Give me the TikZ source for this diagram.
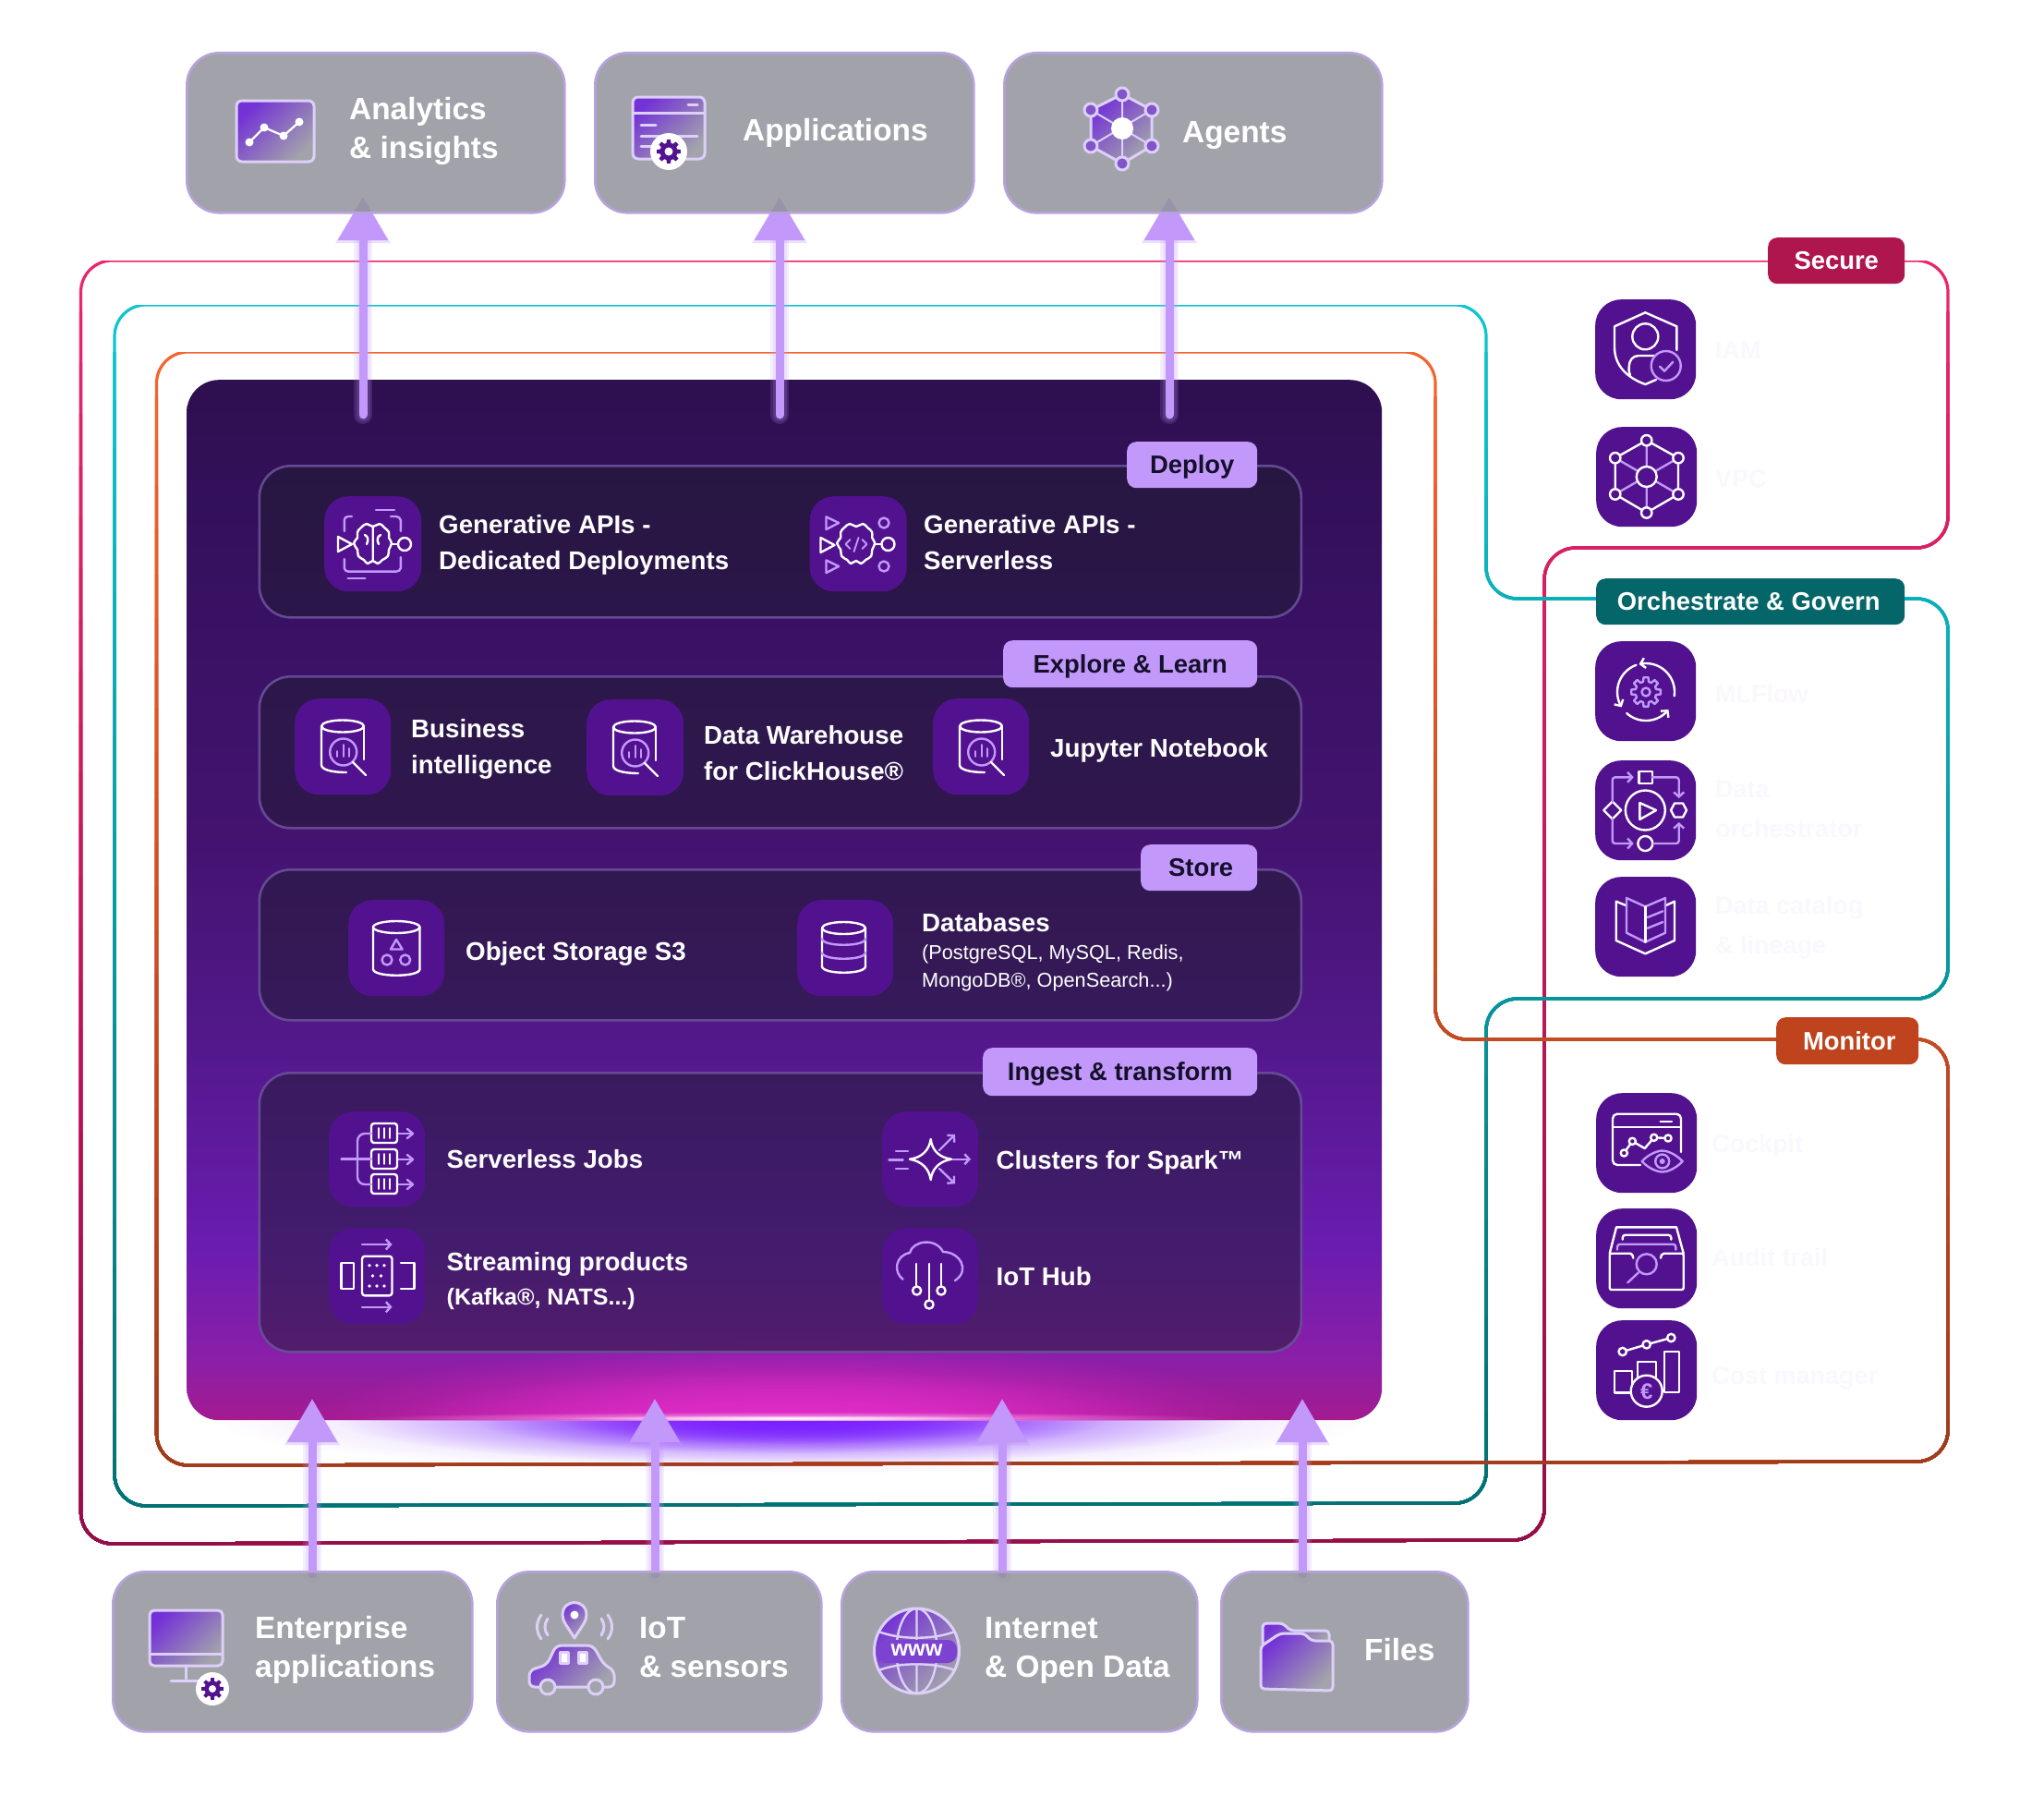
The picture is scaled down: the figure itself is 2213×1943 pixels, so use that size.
\documentclass[tikz,border=0pt]{standalone}
\usepackage{fontspec}
\setmainfont{Liberation Sans}
\usetikzlibrary{arrows.meta,fadings,calc}
\definecolor{lav}{HTML}{C298FB}
\definecolor{tilec}{HTML}{52128F}
\definecolor{boxc}{HTML}{92939C}
\definecolor{boxb}{HTML}{B7A2DC}
\definecolor{gp}{HTML}{7432D6}
\definecolor{gg}{HTML}{A2A3AB}
\definecolor{gl}{HTML}{DCCFF8}
\definecolor{fnt}{HTML}{FAF8FE}
\definecolor{ink}{HTML}{14102A}
\definecolor{grpf}{HTML}{1E1C2E}
\definecolor{grpd}{HTML}{6A4F9A}
\definecolor{gmag}{HTML}{E02CC8}
\definecolor{gvio}{HTML}{7A22FF}
\definecolor{c1}{HTML}{2E0F4F}\definecolor{c2}{HTML}{381163}\definecolor{c3}{HTML}{43136F}
\definecolor{c4}{HTML}{52188A}\definecolor{c5}{HTML}{6A1CB0}\definecolor{c6}{HTML}{8A1FA8}\definecolor{c7}{HTML}{A41B90}
\pgfdeclareverticalshading{panelshade}{100bp}{color(0bp)=(c7); color(25bp)=(c7); color(28bp)=(c6); color(33.3bp)=(c5); color(43.5bp)=(c4); color(53.3bp)=(c3); color(64.4bp)=(c2); color(75bp)=(c1); color(100bp)=(c1)}
\tikzfading[name=glowfade, inner color=transparent!0, outer color=transparent!100]
\newcommand{\gradring}[5]{%
  \foreach \i in {0,...,24}{%
    \pgfmathsetmacro\yy{#4+(\i/25)*(#5-#4)}%
    \pgfmathsetmacro\pp{100-\i*4}%
    \begin{scope}\clip (0,\yy) rectangle (2213,1943);
    \draw[line width=3.2pt, color=#2!\pp!#3, rounded corners=34pt] #1;
    \end{scope}}}
\newcommand{\gearshape}[3]{\path[#3] (-15:#2) \foreach \a in {0,45,...,315}{ -- ({\a-15}:#2) -- ({\a-9}:#1) -- ({\a+9}:#1) -- ({\a+15}:#2) } -- cycle;}
\newcommand{\boxnode}[5]{\node[outbox, minimum width=#4-#2, minimum height=#5-#3, anchor=north west] (#1) at (#2,#3) {};}
\newcommand{\tilenode}[5]{\node[tilebox, minimum width=#4, minimum height=#5, anchor=north west] (#1) at (#2,#3) {};}
\newcommand{\grpnode}[3]{\node[grpbox, minimum width=1128pt, minimum height=#3-#2, anchor=north west] (#1) at (279.5,#2) {};}
\newcommand{\biicon}{%
  \draw[iw] (52,30) ellipse [x radius=23, y radius=6.5];
  \draw[iw] (29,30) -- (29,72) .. controls (29,77) and (40,80) .. (56,80);
  \draw[iw] (75,30) -- (75,66);
  \draw[il] (52.7,58) circle [radius=14.5];
  \draw[il,line width=1.8pt] (46,63)--(46,57) (52.7,63)--(52.7,50) (59,63)--(59,54);
  \draw[iw] (63,69) -- (77,83);}
\newcommand{\brainshape}[1]{\draw[#1] plot[smooth cycle,tension=.7] coordinates {(52.7,33)(46,30)(40,34)(36,39)(36,45)(32,51)(36,58)(37,65)(43,69)(47,73)(52.7,70)(58,73)(63,69)(69,65)(70,58)(73,51)(70,45)(70,39)(65,34)(60,30)};}
\newcommand{\stl}{\strut}
\tikzset{
  x=1pt,y=-1pt,
  outbox/.style={draw=boxb, line width=2.6pt, fill=boxc, fill opacity=.85, draw opacity=1, rounded corners=35pt, inner sep=0pt},
  tilebox/.style={fill=tilec, rounded corners=26pt, inner sep=0pt},
  grpbox/.style={draw=grpd, line width=2.6pt, fill=grpf, fill opacity=.5, draw opacity=.9, rounded corners=34pt, inner sep=0pt},
  tagbox/.style={fill=lav, rounded corners=10pt, inner sep=0pt, text=ink, font=\fontsize{27.4}{34}\selectfont\bfseries},
  ringtag/.style={rounded corners=10pt, inner sep=0pt, text=white, font=\fontsize{27.4}{34}\selectfont\bfseries},
  intxt/.style={anchor=west, inner sep=0pt, align=left, text=white, yshift=-1.5pt, font=\fontsize{27.7}{39}\selectfont\bfseries},
  outtxt/.style={anchor=west, inner sep=0pt, align=left, text=white, yshift=-2pt, font=\fontsize{33.4}{42}\selectfont\bfseries},
  faint/.style={anchor=west, inner sep=0pt, align=left, text=fnt, yshift=-1.5pt, font=\fontsize{27}{43}\selectfont\bfseries},
  iw/.style={draw=white, line width=2.4pt, line join=round, line cap=round},
  il/.style={draw=lav, line width=2.4pt, line join=round, line cap=round},
  bar/.style={-{Straight Barb[length=5pt,width=11pt]}},
  gi/.style={draw=gl, line width=3pt, line join=round, top color=gp, bottom color=gg, shading angle=45},
  gs/.style={draw=gl, line width=3pt, line join=round, line cap=round},
  flow/.style={draw=lav, fill=lav, line width=9pt, -{Triangle[width=52pt,length=47pt]}},
  flowglow/.style={draw=lav, fill=lav, line width=#1, opacity=.16, line cap=round, -{Triangle[width=56pt,length=50pt]}},
}
\begin{document}
\begin{tikzpicture}
\useasboundingbox (0,0) rectangle (2213,1943);
\fill[white] (0,0) rectangle (2213,1943);

% glow under the panel
\begin{scope}
\clip (0,1537) rectangle (2213,1700);
\fill[color=lav!75!white, path fading=glowfade] (856,1537) ellipse [x radius=620, y radius=58];
\fill[color=gvio!70!lav, path fading=glowfade] (856,1537) ellipse [x radius=490, y radius=48];
\fill[color=gvio, path fading=glowfade] (856,1537) ellipse [x radius=340, y radius=36];
\fill[color=gvio, path fading=glowfade] (856,1537) ellipse [x radius=250, y radius=26];
\end{scope}

% frames
\definecolor{r1}{HTML}{EA256C}\definecolor{r2}{HTML}{900E45}
\definecolor{t1}{HTML}{0EC4CF}\definecolor{t2}{HTML}{056E70}
\definecolor{o1}{HTML}{F4642F}\definecolor{o2}{HTML}{9E3A1C}
\gradring{(87.5,282) -- (2109,282) -- (2109,593) -- (1672,593) -- (1672,1667) -- (87.5,1671) -- cycle}{r1}{r2}{282}{1671}
\gradring{(124,330) -- (1609,330) -- (1609,648) -- (2109,648) -- (2109,1081) -- (1609,1081) -- (1609,1627) -- (124,1630) -- cycle}{t1}{t2}{330}{1630}
\gradring{(169.5,381) -- (1554,381) -- (1554,1125) -- (2109,1125) -- (2109,1582) -- (169.5,1586) -- cycle}{o1}{o2}{381}{1586}

% panel
\node[shade, shading=panelshade, rounded corners=35pt, inner sep=0pt, minimum width=1294pt, minimum height=1126pt, anchor=north west] (panel) at (202,411) {};
\begin{scope}
\clip (202,1380) rectangle (1496,1537);
\fill[color=gmag, path fading=glowfade] (856,1537) ellipse [x radius=520, y radius=85];
\fill[color=gmag, path fading=glowfade] (856,1537) ellipse [x radius=430, y radius=55];
\fill[color=white!60!gmag, path fading=glowfade] (856,1535) ellipse [x radius=470, y radius=7];
\fill[color=white, path fading=glowfade] (856,1535) ellipse [x radius=260, y radius=3];
\end{scope}

% group boxes
\grpnode{gdeploy}{503}{667}
\grpnode{gexplore}{731}{895}
\grpnode{gstore}{940}{1103}
\grpnode{gingest}{1160}{1462}
\node[tagbox, minimum width=141pt, minimum height=50pt, anchor=north west] (tdeploy) at (1220,478) {\stl\raisebox{-2.5pt}{Deploy}};
\node[tagbox, minimum width=275pt, minimum height=51pt, anchor=north west] (texplore) at (1086,693) {\stl\raisebox{-2.5pt}{Explore \& Learn}};
\node[tagbox, minimum width=126pt, minimum height=50pt, anchor=north west] (tstore) at (1235,914) {\hspace{4pt}\stl\raisebox{-2.5pt}{Store}};
\node[tagbox, minimum width=297pt, minimum height=52pt, anchor=north west] (tingest) at (1064,1134) {\stl\raisebox{-2.5pt}{Ingest \& transform}};

% flow arrows out
\coordinate (aoA) at (393,449); \coordinate (aoAt) at (393,213);
\coordinate (aoB) at (844,449); \coordinate (aoBt) at (844,213);
\coordinate (aoC) at (1266,449); \coordinate (aoCt) at (1266,213);
\coordinate (aiA) at (338,1704); \coordinate (aiAt) at (338,1514);
\coordinate (aiB) at (709,1704); \coordinate (aiBt) at (709,1514);
\coordinate (aiC) at (1085,1704); \coordinate (aiCt) at (1085,1514);
\coordinate (aiD) at (1410,1704); \coordinate (aiDt) at (1410,1514);
\foreach \s/\t in {aoA/aoAt,aoB/aoBt,aoC/aoCt,aiA/aiAt,aiB/aiBt,aiC/aiCt,aiD/aiDt}{
  \draw[flowglow=20pt] (\s) -- (\t);
  \draw[flowglow=15pt] (\s) -- (\t);
  \draw[flow, line cap=round] (\s) -- (\t);
}

% outer boxes
\boxnode{bana}{201}{56}{610}{229}
\boxnode{bapp}{643}{56}{1053}{229}
\boxnode{bage}{1086}{56}{1495}{229}
\boxnode{bent}{121}{1700}{510}{1873}
\boxnode{biot}{537}{1700}{888}{1873}
\boxnode{bnet}{910}{1700}{1295}{1873}
\boxnode{bfil}{1321}{1700}{1588}{1873}

\node[outtxt] (xana) at (378,140) {\stl Analytics\\\stl\& insights};
\node[outtxt] (xapp) at (804,142) {\stl Applications};
\node[outtxt] (xage) at (1280,144) {\stl Agents};
\node[outtxt] (xent) at (276,1784) {\stl Enterprise\\\stl applications};
\node[outtxt] (xiot) at (692,1784) {\stl IoT\\\stl\& sensors};
\node[outtxt] (xnet) at (1066,1784) {\stl Internet\\\stl\& Open Data};
\node[outtxt] (xfil) at (1477,1787) {\stl Files};

% analytics icon
\draw[gi, rounded corners=6pt] (256,109) rectangle (340,175);
\draw[draw=white,line width=2.2pt] (270,154)--(286,138)--(307,147)--(324,132);
\foreach \p in {(270,154),(286,138),(307,147),(324,132)} \fill[white] \p circle [radius=4.5];
% applications icon
\draw[gi, rounded corners=6pt] (685,105) rectangle (763,172);
\draw[gs] (685,122)--(763,122);
\draw[gs] (745,113)--(755,113) (694,135)--(710,135) (694,147)--(755,147) (694,158)--(708,158);
\fill[white] (724,164) circle [radius=20];
\begin{scope}[shift={(724,164)}]
\gearshape{13}{9.5}{fill=tilec}
\fill[white] (0,0) circle [radius=4.5];
\end{scope}
% agents icon
\fill[top color=gp, bottom color=gg, shading angle=45] (1215,102)--(1247,119)--(1247,158)--(1215,177)--(1181,158)--(1181,119)--cycle;
\draw[gs] (1215,102)--(1247,119)--(1247,158)--(1215,177)--(1181,158)--(1181,119)--cycle;
\draw[gs,line width=2pt] (1215,102)--(1215,177) (1181,119)--(1247,158) (1247,119)--(1181,158);
\foreach \p in {(1215,102),(1247,119),(1247,158),(1215,177),(1181,158),(1181,119)} \draw[gs,fill=gp!70!gg] \p circle [radius=7];
\fill[white] (1215,139) circle [radius=12];

% monitor icon
\draw[gi, rounded corners=5pt] (162,1743) rectangle (241,1803);
\draw[gs] (162,1790)--(241,1790);
\draw[gs] (201,1803)--(201,1817) (185,1819)--(220,1819);
\fill[white] (230,1828) circle [radius=18];
\begin{scope}[shift={(230,1828)}]
\gearshape{12}{8.5}{fill=tilec}
\fill[white] (0,0) circle [radius=4];
\end{scope}
% pin and car
\draw[gs, top color=gp, bottom color=gg, shading angle=45] (622,1773) .. controls (614,1760) and (609,1755) .. (609,1748) .. controls (609,1730) and (635,1730) .. (635,1748) .. controls (635,1755) and (630,1760) .. (622,1773) -- cycle;
\fill[white] (622,1748) circle [radius=4.5];
\draw[gs] (593,1752) .. controls (589,1758) and (589,1764) .. (593,1770) (586,1748) .. controls (580,1756) and (580,1766) .. (586,1774);
\draw[gs] (651,1752) .. controls (655,1758) and (655,1764) .. (651,1770) (658,1748) .. controls (664,1756) and (664,1766) .. (658,1774);
\draw[gi, rounded corners=6pt] (573,1826) -- (573,1808) -- (592,1802) -- (602,1781) -- (642,1781) -- (654,1802) -- (665,1808) -- (665,1826) -- cycle;
\draw[gs,fill=white] (606,1788) rectangle (615,1800);
\draw[gs,fill=white] (626,1788) rectangle (635,1800);
\draw[gs,fill=gg] (593,1826) circle [radius=8];
\draw[gs,fill=gg] (645,1826) circle [radius=8];
% globe
\draw[gi] (992.5,1787) circle [radius=46];
\draw[gs,line width=2.4pt] (992.5,1741) -- (992.5,1833) (992.5,1787) ellipse [x radius=22, y radius=46];
\draw[gs,line width=2.4pt] (951,1766) .. controls (975,1775) and (1010,1775) .. (1034,1766) (951,1808) .. controls (975,1799) and (1010,1799) .. (1034,1808);
\fill[gp!85!gg, rounded corners=10pt] (949,1775) rectangle (1036,1800);
\node[inner sep=0pt, text=white, font=\fontsize{24}{24}\selectfont\bfseries] (xwww) at (992.5,1786) {www};
% folder
\draw[gi, rounded corners=4pt] (1367,1782) -- (1367,1757) -- (1389,1757) -- (1397,1765) -- (1439,1765) -- (1439,1782) -- cycle;
\draw[gi, rounded corners=4pt] (1365,1828) -- (1365,1782) -- (1386,1768) -- (1412,1768) -- (1420,1776) -- (1443,1776) -- (1443,1830) -- cycle;

% inner tiles and icons
\tilenode{igen}{351}{537}{105}{103}
\begin{scope}[shift={(igen.north west)}]
\draw[il] (30,22) -- (26,22) .. controls (23,22) and (21.8,24) .. (21.8,26) -- (21.8,38) (21.8,68) -- (21.8,78) .. controls (21.8,80) and (24,81.6) .. (26,81.6) -- (78,81.6) .. controls (80,81.6) and (82.8,80) .. (82.8,78) -- (82.8,66) (82.8,38) -- (82.8,26) .. controls (82.8,24) and (80,22) .. (78,22) -- (72,22);
\draw[il] (56,14.7)--(76,14.7) (25.6,89)--(44.4,89);
\brainshape{iw,fill=tilec}
\draw[iw] (52.7,33)--(52.7,70) (44,42) .. controls (48,44) and (48,48) .. (46,52) (61,42) .. controls (57,44) and (57,48) .. (59,52);
\draw[iw] (15,44)--(15,60)--(30,52)--cycle;
\draw[iw] (73,52)--(80,52);
\draw[iw] (87,52) circle [radius=7];
\end{scope}
\tilenode{igens}{876.5}{537}{105}{103}
\begin{scope}[shift={(igens.north west)}]
\draw[il] (18,22.4)--(18,36)--(31.6,29)--cycle (18,69.4)--(18,83)--(31.6,76)--cycle;
\draw[il] (80.5,29) circle [radius=5.5] (80.5,76) circle [radius=5.5];
\begin{scope}[shift={(-2.3,0)}]\brainshape{iw,fill=tilec}\end{scope}
\draw[il,line width=1.9pt] (44,47)--(39,52)--(44,57) (53,45)--(48,60) (57,47)--(62,52)--(57,57);
\draw[iw] (12,45)--(12,61)--(27,53)--cycle;
\draw[iw] (71,52)--(78,52);
\draw[iw] (85,52) circle [radius=7];
\end{scope}
\tilenode{ibi}{319}{756}{104}{104}
\begin{scope}[shift={(ibi.north west)}]\biicon\end{scope}
\tilenode{idw}{635}{757}{105}{104}
\begin{scope}[shift={(idw.north west)}]\biicon\end{scope}
\tilenode{ijn}{1010}{756}{104}{104}
\begin{scope}[shift={(ijn.north west)}]\biicon\end{scope}
\tilenode{is3}{377}{974}{104}{104}
\begin{scope}[shift={(is3.north west)}]
\draw[iw] (52.2,29.5) ellipse [x radius=25.2, y radius=6.5];
\draw[iw] (27,29.5) -- (27,75) .. controls (27,84) and (77.5,84) .. (77.5,75) -- (77.5,29.5);
\draw[il] (52,43)--(46,53.5)--(58.7,53.5)--cycle;
\draw[il] (42,65) circle [radius=5.5] (61.7,65) circle [radius=5.5];
\end{scope}
\tilenode{idb}{863}{974}{104}{104}
\begin{scope}[shift={(idb.north west)}]
\draw[iw] (50.5,30.5) ellipse [x radius=23.5, y radius=6.5];
\draw[iw] (27,30.5) -- (27,72) .. controls (27,81) and (74,81) .. (74,72) -- (74,30.5);
\draw[il] (27,42) .. controls (27,51) and (74,51) .. (74,42) (27,57) .. controls (27,66) and (74,66) .. (74,57);
\end{scope}
\tilenode{isj}{356}{1203}{104}{103}
\begin{scope}[shift={(isj.north west)}]
\foreach \y in {13,41,68}{
  \draw[il] (74,\y+11)--(90,\y+11);
  \draw[il] (85,\y+6)--(91,\y+11)--(85,\y+16);
  \draw[iw,rounded corners=3pt] (46,\y) rectangle (74,\y+21);
  \draw[iw,line width=1.7pt] (54,\y+5)--(54,\y+16) (60,\y+5)--(60,\y+16) (66,\y+5)--(66,\y+16);
}
\draw[il] (13.5,51.5)--(46,51.5);
\draw[il,rounded corners=8pt] (46,24)--(31,24)--(31,79)--(46,79);
\end{scope}
\tilenode{isp}{955}{1203}{104}{103}
\begin{scope}[shift={(isp.north west)}]
\draw[il] (15,42.7)--(28,42.7) (7.5,52.3)--(22.6,52.3) (15,61.7)--(28,61.7);
\draw[il,bar] (76.7,51.7)--(96,51.7);
\draw[il,bar] (62,42)--(79,25);
\draw[il,bar] (62,62)--(79,78.3);
\draw[iw] (52.7,30) .. controls (54,42) and (62,50) .. (75,51.7) .. controls (62,54) and (54,62) .. (52.7,74) .. controls (51,62) and (43,54) .. (30,51.7) .. controls (43,50) and (51,42) .. (52.7,30) -- cycle;
\end{scope}
\tilenode{ist}{356}{1329}{104}{104}
\begin{scope}[shift={(ist.north west)}]
\draw[il,bar] (36,18)--(68.5,18);
\draw[il,bar] (36,85.7)--(68.5,85.7);
\draw[iw,rounded corners=3pt] (36,30.7) rectangle (68.5,73.3);
\draw[iw] (13.5,38) rectangle (27,65.7);
\draw[iw] (78,38)--(92.5,38)--(92.5,65.7)--(78,65.7);
\foreach \x in {44,52,60}{\fill[white] (\x,40.7) circle [radius=1.8]; \fill[white] (\x,63) circle [radius=1.8];}
\foreach \x in {47.5,56.5}{\fill[white] (\x,52) circle [radius=1.8];}
\end{scope}
\tilenode{iih}{955}{1329}{104}{104}
\begin{scope}[shift={(iih.north west)}]
\draw[il] (22.6,55.7) .. controls (12,48) and (14,30) .. (30,27) .. controls (33,14) and (58,10) .. (66,26) .. controls (84,26) and (96,46) .. (79,57);
\draw[iw] (37,39)--(37,63) (51,39)--(51,78) (64,39)--(64,63);
\draw[iw] (37.6,68) circle [radius=4.6] (51,83) circle [radius=4.6] (64,68) circle [radius=4.6];
\end{scope}

% inner texts
\node[intxt] (xgd) at (475,587.5) {\stl Generative APIs -\\\stl Dedicated Deployments};
\node[intxt] (xgs) at (1000,587.5) {\stl Generative APIs -\\\stl Serverless};
\node[intxt] (xbi) at (445,808.5) {\stl Business\\\stl intelligence};
\node[intxt] (xdw) at (762,815.5) {\stl Data Warehouse\\\stl for ClickHouse®};
\node[intxt] (xjn) at (1137,810) {\stl Jupyter Notebook};
\node[intxt] (xs3) at (504,1030) {\stl Object Storage S3};
\node[intxt] (xdb) at (998,999) {\stl Databases};
\node[anchor=west, inner sep=0pt, align=left, text=white, yshift=-1pt, font=\fontsize{21.7}{30}\selectfont] (xdbs) at (998,1046) {\stl (PostgreSQL, MySQL, Redis,\\\stl MongoDB®, OpenSearch...)};
\node[intxt] (xsj) at (483.5,1255) {\stl Serverless Jobs};
\node[intxt] (xcs) at (1078.5,1256) {\stl Clusters for Spark™};
\node[intxt] (xsp) at (483.5,1366) {\stl Streaming products};
\node[anchor=west, inner sep=0pt, text=white, yshift=-1.5pt, font=\fontsize{25}{30}\selectfont\bfseries] (xsps) at (483.5,1405) {\stl (Kafka®, NATS...)};
\node[intxt] (xih) at (1078.5,1382) {\stl IoT Hub};

% frame tags
\definecolor{tagr}{HTML}{B0164E}\definecolor{tagt}{HTML}{05666A}\definecolor{tago}{HTML}{BF441E}
\node[ringtag, fill=tagr, minimum width=148pt, minimum height=50pt, anchor=north west] (rsec) at (1914,257) {\stl\raisebox{-2.5pt}{Secure}};
\node[ringtag, fill=tagt, minimum width=334pt, minimum height=50pt, anchor=north west] (rorc) at (1728,626) {\hspace{-4pt}\stl\raisebox{-2.5pt}{Orchestrate \& Govern}};
\node[ringtag, fill=tago, minimum width=154pt, minimum height=51pt, anchor=north west] (rmon) at (1923,1101) {\hspace{4pt}\stl\raisebox{-2.5pt}{Monitor}};

% side tiles
\tikzset{tilebox/.append style={rounded corners=28pt}}
\tilenode{siam}{1727}{324}{109}{108}
\begin{scope}[shift={(siam.north west)}]
\draw[iw] (66,87) -- (54.3,92) .. controls (35,85) and (21,72) .. (21,52) -- (21,29.3) -- (54.3,14.3) -- (88.3,29.3) -- (88.3,55);
\draw[iw] (54.3,40.3) circle [radius=14];
\draw[iw] (38,82) .. controls (36,78) and (36.7,75) .. (36.7,72.7) .. controls (36.7,66) and (41,61) .. (47,61) -- (68,61);
\draw[il,fill=tilec] (76.7,72) circle [radius=16];
\draw[il] (70,72.7)--(75,77.7)--(84.3,67.7);
\end{scope}
\tilenode{svpc}{1728}{462}{109}{108}
\begin{scope}[shift={(svpc.north west)}]
\draw[il] (54.7,14.7)--(54.7,93) (20.7,33.7)--(89,73) (89,33.7)--(20.7,73);
\draw[iw] (54.7,14.7)--(89,33.7)--(89,73)--(54.7,93)--(20.7,73)--(20.7,33.7)--cycle;
\draw[iw,fill=tilec] (54.7,54) circle [radius=11];
\foreach \p in {(54.7,14.7),(89,33.7),(89,73),(54.7,93),(20.7,73),(20.7,33.7)} \draw[iw,fill=tilec] \p circle [radius=5.7];
\end{scope}
\tilenode{smlf}{1727}{694}{109}{108}
\begin{scope}[shift={(smlf.north west)}]
\draw[iw,bar] plot[domain=250:148,samples=24] ({55+31*cos(\x)},{55+31*sin(\x)});
\draw[iw,bar] plot[domain=132:38,samples=24] ({55+31*cos(\x)},{55+31*sin(\x)});
\draw[iw,bar] plot[domain=8:-104,samples=24] ({55+31*cos(\x)},{55+31*sin(\x)});
\begin{scope}[shift={(55,55)}]
\gearshape{16}{11.5}{il}
\draw[il] (0,0) circle [radius=4.5];
\end{scope}
\end{scope}
\tilenode{sorc}{1727}{823}{109}{108}
\begin{scope}[shift={(sorc.north west)}]
\draw[iw] (54.3,54) circle [radius=21.5];
\draw[iw] (48.3,46)--(48.3,64)--(66,54)--cycle;
\draw[iw] (47.3,11.7) rectangle (61.7,25);
\draw[iw] (54.3,90) circle [radius=8];
\draw[iw] (18.7,44.5)--(28.2,54)--(18.7,63.5)--(9.2,54)--cycle;
\draw[iw] (82,54)--(86,46.5)--(95,46.5)--(99,54)--(95,61.5)--(86,61.5)--cycle;
\draw[il,bar,rounded corners=3pt] (18.7,45)--(18.7,18.3)--(41.7,18.3);
\draw[il,bar,rounded corners=3pt] (61.7,18.3)--(90.7,18.3)--(90.7,41);
\draw[il,bar,rounded corners=3pt] (18.7,63)--(18.7,90)--(41.7,90);
\draw[il,bar,rounded corners=3pt] (62.7,90)--(90.7,90)--(90.7,67);
\end{scope}
\tilenode{scat}{1727}{949}{109}{108}
\begin{scope}[shift={(scat.north west)}]
\draw[iw] (34,31.3)--(22.7,26.7)--(22.7,69)--(54.3,83.3)--(86,69)--(86,26.7)--(76,31.3);
\draw[il] (34,23)--(54.3,32.3)--(76,23)--(76,60.7)--(54.3,70.7)--(34,60.7)--cycle;
\draw[il] (56.7,44)--(73.3,37.3) (56.7,55.7)--(73.3,49);
\draw[iw] (54.3,32.3)--(54.3,70.7);
\end{scope}
\tilenode{sckp}{1728}{1183}{109}{108}
\begin{scope}[shift={(sckp.north west)}]
\draw[iw,rounded corners=5pt] (48,78)--(18,78)--(18,22.7)--(92,22.7)--(92,64);
\draw[iw] (18,36.7)--(92,36.7) (69.7,30.7)--(82,30.7);
\draw[iw] (30.3,65)--(39.3,52.3)--(52.7,60)--(62.7,48.3)--(78,49);
\foreach \p in {(30.3,65),(39.3,52.3),(62.7,48.3),(78,49)} \draw[iw,fill=tilec] \p circle [radius=3.6];
\draw[il,fill=tilec] (49.7,74) .. controls (58,65) and (68,62.5) .. (71.7,62.5) .. controls (76,62.5) and (85,65) .. (93.7,74) .. controls (85,83) and (76,85.5) .. (71.7,85.5) .. controls (68,85.5) and (58,83) .. (49.7,74) -- cycle;
\draw[il] (71.7,74) circle [radius=7.5];
\fill[lav] (71.7,74) circle [radius=3];
\end{scope}
\tilenode{saud}{1728}{1308}{109}{108}
\begin{scope}[shift={(saud.north west)}]
\draw[iw] (14.7,48.7)--(22,20.3)--(87,20.3)--(94.7,48.7);
\draw[iw,rounded corners=2pt] (37,48.7)--(14.7,48.7)--(14.7,88)--(94.7,88)--(94.7,48.7)--(73.7,48.7);
\draw[iw] (37,48.7) .. controls (39,49) and (40,51) .. (40.3,53.7) (73.7,48.7) .. controls (71,49) and (70,51) .. (70,53.7);
\draw[iw,rounded corners=3pt] (28.7,33.7)--(28.7,28.7)--(81.3,28.7)--(81.3,33.7);
\draw[il,rounded corners=3pt] (23,44.7)--(23,38.7)--(86.3,38.7)--(86.3,44.7);
\draw[il] (54.7,60.3) circle [radius=11];
\draw[il] (45.8,69.5)--(34.3,80.3);
\end{scope}
\tilenode{scst}{1728}{1429}{109}{108}
\begin{scope}[shift={(scst.north west)}]
\draw[iw] (28.7,34)--(54.7,26.3)--(81.3,19);
\foreach \p in {(28.7,34),(54.7,26.3),(81.3,19)} \draw[iw,fill=tilec] \p circle [radius=4.2];
\draw[iw] (19.7,54.7) rectangle (38.7,78.3);
\draw[iw] (44.7,44.7) rectangle (64.7,62.3);
\draw[iw] (73.7,34) rectangle (89.7,78);
\draw[iw,fill=tilec] (54.7,76.7) circle [radius=17];
\node[inner sep=0pt, text=lav, font=\fontsize{24}{24}\selectfont\bfseries] (xeuro) at (54.7,77) {€};
\end{scope}

% near-white labels
\node[faint] (fiam) at (1857,378) {\stl IAM};
\node[faint] (fvpc) at (1857,517) {\stl VPC};
\node[faint] (fmlf) at (1857,750) {\stl MLFlow};
\node[faint] (forc) at (1857,875) {\stl Data\\\stl orchestrator};
\node[faint] (fcat) at (1857,1001) {\stl Data catalog\\\stl\& lineage};
\node[faint] (fckp) at (1853,1237) {\stl Cockpit};
\node[faint] (faud) at (1853,1360) {\stl Audit trail};
\node[faint] (fcst) at (1853,1488) {\stl Cost manager};
\end{tikzpicture}
\end{document}
